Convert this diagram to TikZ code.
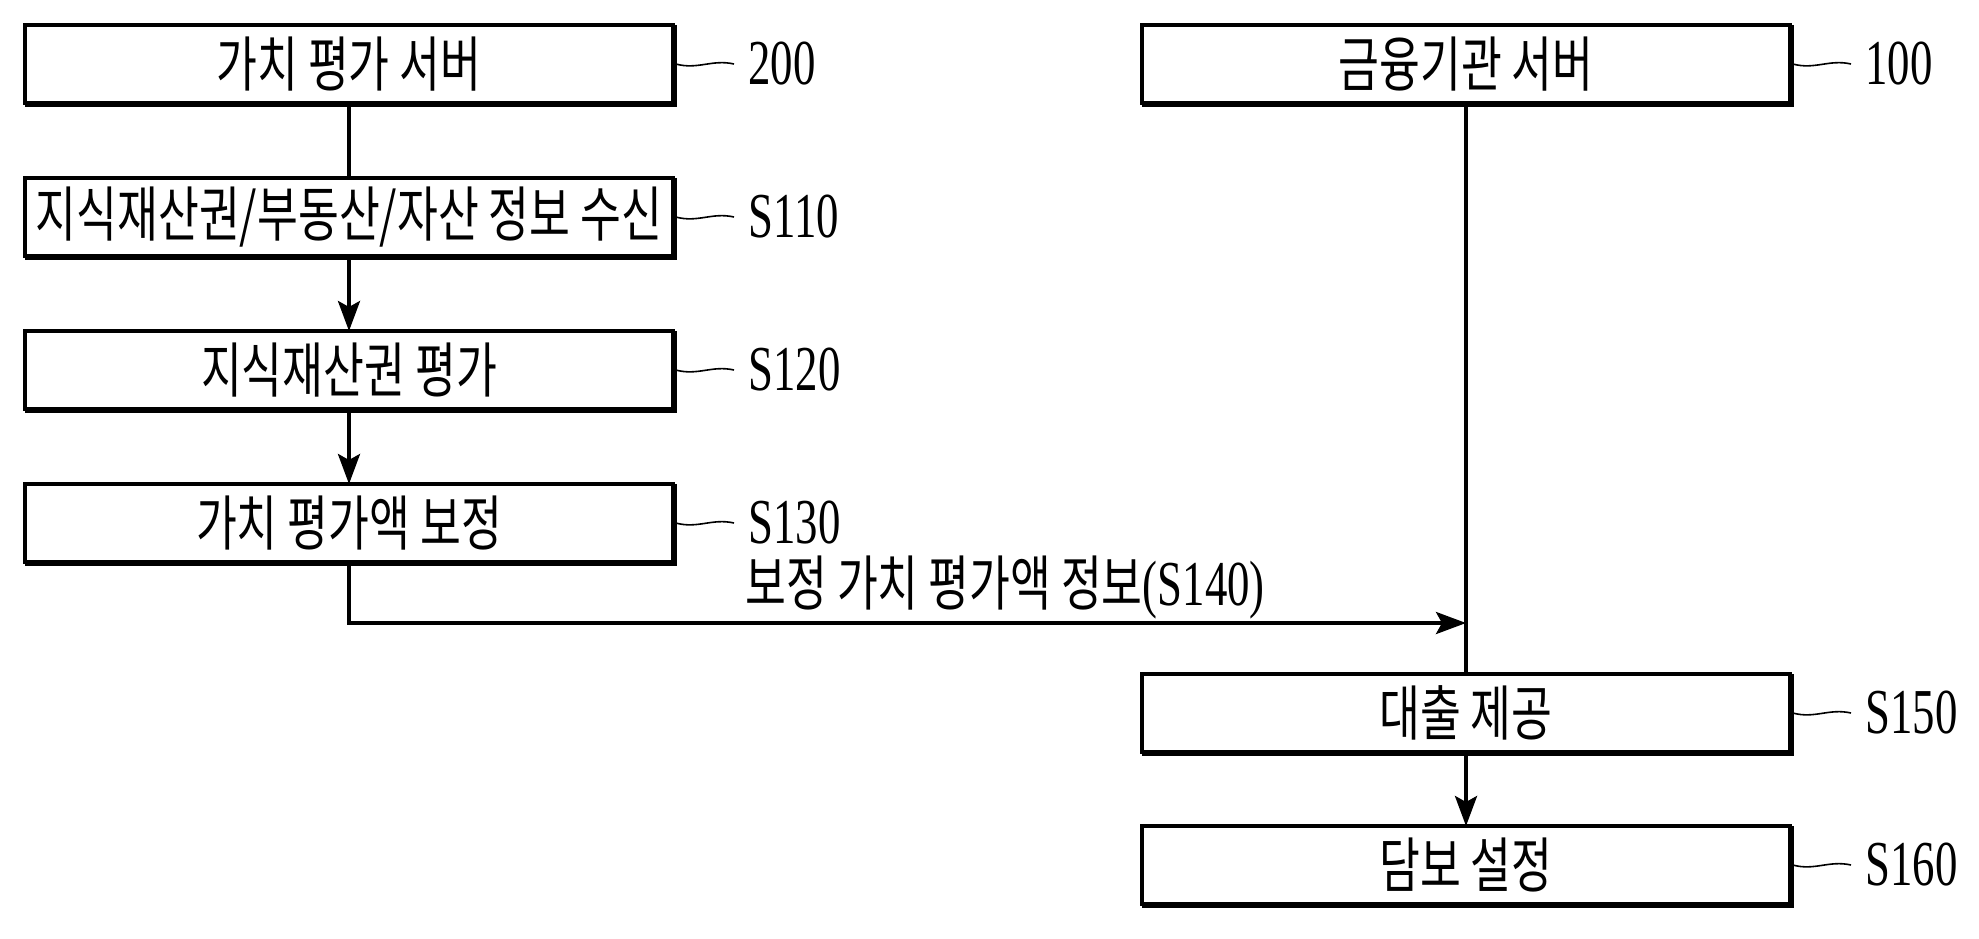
\documentclass[tikz,border=0pt]{standalone}
\usepackage{fontspec}
\setmainfont{Liberation Serif}[FakeStretch=0.7]
\newfontfamily\kr{Noto Sans CJK KR}[FakeStretch=0.74]
\usetikzlibrary{arrows.meta,positioning}
\tikzset{
  box/.style={draw, line width=1.7pt, outer sep=0pt, minimum width=324pt, minimum height=39pt, inner sep=0pt, font=\kr\fontsize{30pt}{32pt}\selectfont},
  lbl/.style={inner xsep=7pt, inner ysep=0pt, anchor=west, font=\fontsize{32pt}{34pt}\selectfont},
  lead/.style={line width=0.8pt},
  conn/.style={line width=1.9pt},
  arr/.style={line width=1.9pt, -{Stealth[length=15pt,width=11pt,inset=3pt]}},
}
\begin{document}
\begin{tikzpicture}[x=0.5pt,y=-0.5pt]
\useasboundingbox (0,0) rectangle (1979,938);
% left column
\node[box] (b200) at (349,64) {가치 평가 서버};
\node[box] (s110) at (349,217) {지식재산권/부동산/자산 정보 수신};
\node[box] (s120) at (349,370) {지식재산권 평가};
\node[box] (s130) at (349,523) {가치 평가액 보정};
% right column
\node[box] (b100) at (1466,64) {금융기관 서버};
\node[box] (s150) at (1466,713) {대출 제공};
\node[box] (s160) at (1466,865) {담보 설정};
% shadows
\foreach \n in {b200,s110,s120,s130,b100,s150,s160}{
  \draw[line width=2.8pt] ([yshift=-0.55pt]\n.south west) -- ([xshift=0.55pt,yshift=-0.55pt]\n.south east) -- ([xshift=0.55pt]\n.north east);
}
% labels
\node[lbl, right=30.5pt of b200] (l200) {200};
\node[lbl, right=30.5pt of s110] (l110) {S110};
\node[lbl, right=30.5pt of s120] (l120) {S120};
\node[lbl, right=30.5pt of s130] (l130) {S130};
\node[lbl, right=30.5pt of b100] (l100) {100};
\node[lbl, right=30.5pt of s150] (l150) {S150};
\node[lbl, right=30.5pt of s160] (l160) {S160};
\foreach \b/\l in {b200/l200,s110/l110,s120/l120,s130/l130,b100/l100,s150/l150,s160/l160}{
  \draw[lead] ([xshift=1.4pt]\b.east) .. controls +(22,6) and +(-22,-5) .. (\l.west);
}
\node[anchor=west, inner sep=0pt, font=\fontsize{32pt}{34pt}\selectfont] (l140) at (745,587) {{\kr\fontsize{30pt}{32pt}\selectfont 보정 가치 평가액 정보}(S140)};
% connectors
\draw[conn] (b200.south) -- (s110.north);
\draw[arr] (s110.south) -- (s120.north);
\draw[arr] (s120.south) -- (s130.north);
\draw[conn] (b100.south) -- (s150.north);
\draw[arr] (s150.south) -- (s160.north);
\coordinate (m) at (b100.south |- 0,623);
\draw[arr] (s130.south) |- (m);
\end{tikzpicture}
\end{document}
